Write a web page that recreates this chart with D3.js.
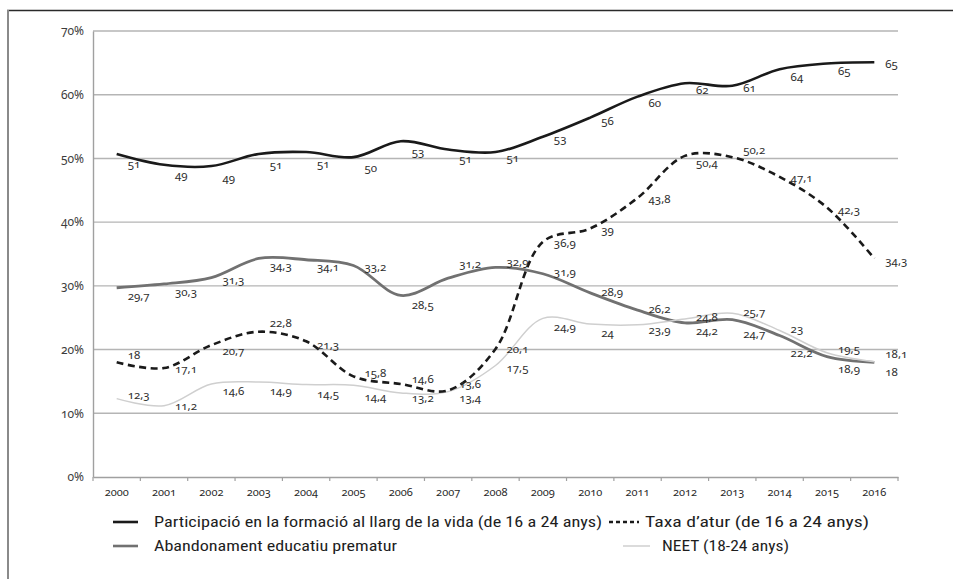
<!DOCTYPE html>
<html>
<head>
<meta charset="utf-8">
<script src="https://cdn.jsdelivr.net/npm/d3@7/dist/d3.min.js"></script>
<style>
  html, body { margin: 0; padding: 0; background: #fff; }
  svg { display: block; }
  .num { font-family: "Noto Sans", "Open Sans", sans-serif; font-variant-numeric: oldstyle-nums; font-feature-settings: "onum" 1; }
  .leg { font-family: "Liberation Sans Narrow", "Roboto Condensed", "Roboto", sans-serif; }
</style>
</head>
<body>
<svg id="chart" width="953" height="579"></svg>
<script>
// ---------------- DATA ----------------
const years = ["2000","2001","2002","2003","2004","2005","2006","2007","2008","2009","2010","2011","2012","2013","2014","2015","2016"];
const participacio = [50.7, 49.0, 48.8, 50.7, 51.0, 50.2, 52.7, 51.4, 51.0, 53.4, 56.4, 59.7, 61.8, 61.4, 64.0, 64.9, 65.1];
const taxaAtur     = [18, 17.1, 20.7, 22.8, 21.3, 15.8, 14.6, 13.6, 20.1, 36.9, 39, 43.8, 50.4, 50.2, 47.1, 42.3, 34.3];
const abandonament = [29.7, 30.3, 31.3, 34.3, 34.1, 33.2, 28.5, 31.2, 32.9, 31.9, 28.9, 26.2, 24.2, 24.7, 22.2, 18.9, 18];
const neet         = [12.3, 11.2, 14.6, 14.9, 14.5, 14.4, 13.2, 13.4, 17.5, 24.9, 24, 23.9, 24.8, 25.7, 23, 19.5, 18.1];
const yTicks = [0, 10, 20, 30, 40, 50, 60, 70];
const seriesNames = [
  "Participació en la formació al llarg de la vida (de 16 a 24 anys)",
  "Taxa d’atur (de 16 a 24 anys)",
  "Abandonament educatiu prematur",
  "NEET (18-24 anys)"
];

// ---------------- LAYOUT (label nudges, px) ----------------
const partDy = [10,10,11,11,11,10,10,9,5,2,3,6,6,2,7,7,1];
const taxaDy = [-8,0,5,-9,3,-4,-5,-7,0,1,1,1,7,-8,1,2,2];
const abDy   = [8,8,2,7,7,1,9,-15,-6,-2,-1,-2,8,14,17,12,9];
const neetDy = [-4,0,7,8,9,11,5,6,2,8,8,5,-2,-2,-2,-4,-8];

const svg = d3.select("#chart");
const W = 953, H = 579;
const L = 93, R = 898, T = 31, B = 477;

const x = d3.scaleBand().domain(years).range([L, R]).padding(0);
const cx = d => x(d) + x.bandwidth() / 2;
const y = d3.scaleLinear().domain([0, 70]).range([B, T]);

// frame
svg.append("line").attr("x1", 7).attr("x2", W).attr("y1", 10.5).attr("y2", 10.5)
  .attr("stroke", "#2a2a2a").attr("stroke-width", 1.3);
svg.append("line").attr("x1", 8).attr("x2", 8).attr("y1", 10).attr("y2", H)
  .attr("stroke", "#8a8a8a").attr("stroke-width", 2);

// gridlines
svg.append("g").selectAll("line").data(yTicks.filter(d => d > 0)).join("line")
  .attr("x1", L).attr("x2", R)
  .attr("y1", d => y(d)).attr("y2", d => y(d))
  .attr("stroke", "#b5b5b5").attr("stroke-width", 1.4);

// y axis
const yAxis = svg.append("g").attr("class", "num").attr("transform", `translate(${L},0)`)
  .call(d3.axisLeft(y).tickValues(yTicks).tickFormat(d => d + "%").tickSize(0).tickPadding(9));
yAxis.select(".domain").attr("stroke", "#a0a0a0").attr("stroke-width", 1.4);
yAxis.selectAll("text").attr("font-size", 12).attr("fill", "#3c3c3c");

// x axis
const xAxis = svg.append("g").attr("class", "num").attr("transform", `translate(0,${B})`)
  .call(d3.axisBottom(x).tickSize(0).tickPadding(11));
xAxis.select(".domain").attr("stroke", "#a0a0a0").attr("stroke-width", 1.4);
xAxis.selectAll("text").attr("font-size", 11).attr("fill", "#2a2a2a");
xAxis.append("g").selectAll("line").data(years.map(d => x(d)).concat([R])).join("line")
  .attr("x1", d => d).attr("x2", d => d).attr("y1", 0).attr("y2", 4)
  .attr("stroke", "#a0a0a0").attr("stroke-width", 1.2);

// series
const curve = d3.curveCatmullRom.alpha(0.5);
const series = [
  { vals: participacio, color: "#1a1a1a", width: 2.6, dash: null, dy: partDy, fmt: v => String(Math.round(v)) },
  { vals: abandonament, color: "#717171", width: 2.8, dash: null, dy: abDy, fmt: v => String(v).replace(".", ",") },
  { vals: neet, color: "#cfcfcf", width: 1.5, dash: null, dy: neetDy, fmt: v => String(v).replace(".", ",") },
  { vals: taxaAtur, color: "#1a1a1a", width: 2.6, dash: "7,4.5", dy: taxaDy, fmt: v => String(v).replace(".", ",") }
];

const line = d3.line().x((d, i) => cx(years[i])).y(d => y(d)).curve(curve);
const gLines = svg.append("g");
series.forEach(s => {
  gLines.append("path").attr("d", line(s.vals))
    .attr("fill", "none").attr("stroke", s.color).attr("stroke-width", s.width)
    .attr("stroke-dasharray", s.dash).attr("stroke-linejoin", "round");
});

const gLabels = svg.append("g").attr("class", "num");
series.forEach(s => {
  gLabels.append("g").selectAll("text").data(s.vals).join("text")
    .attr("x", (d, i) => cx(years[i]) + 11)
    .attr("y", (d, i) => y(d) + s.dy[i])
    .attr("dominant-baseline", "central")
    .attr("font-size", 11.5)
    .attr("fill", "#2e2e2e")
    .text(d => s.fmt(d));
});

// legend
const legend = [
  { name: seriesNames[0], color: "#1a1a1a", width: 2.6, dash: null, x1: 113, x2: 138, tx: 154, tw: 448, ty: 522 },
  { name: seriesNames[1], color: "#1a1a1a", width: 2.6, dash: "4,3", x1: 609, x2: 639, tx: 645, tw: 224, ty: 522 },
  { name: seriesNames[2], color: "#717171", width: 2.6, dash: null, x1: 113, x2: 138, tx: 154, tw: 243, ty: 546 },
  { name: seriesNames[3], color: "#cfcfcf", width: 1.5, dash: null, x1: 623, x2: 650, tx: 662, tw: 127, ty: 546 }
];
const gLeg = svg.append("g");
legend.forEach(l => {
  gLeg.append("line").attr("x1", l.x1).attr("x2", l.x2).attr("y1", l.ty).attr("y2", l.ty)
    .attr("stroke", l.color).attr("stroke-width", l.width).attr("stroke-dasharray", l.dash);
  gLeg.append("text").attr("class", "leg").attr("x", l.tx).attr("y", l.ty)
    .attr("dominant-baseline", "central").attr("font-size", 14).attr("fill", "#1e1e1e")
    .attr("textLength", l.tw).attr("lengthAdjust", "spacingAndGlyphs")
    .text(l.name);
});
</script>
</body>
</html>
